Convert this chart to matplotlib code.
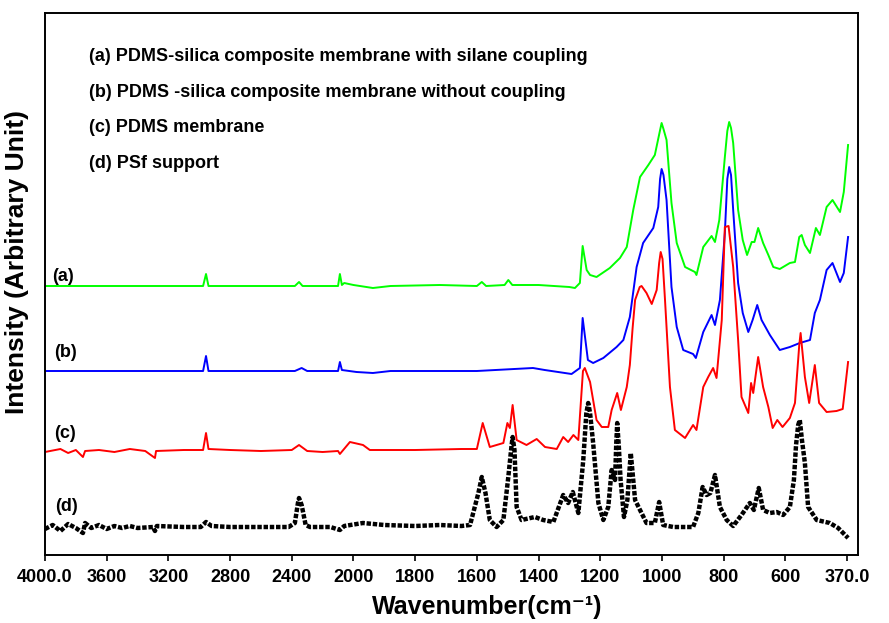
import numpy as np
import matplotlib
matplotlib.use("Agg")
import matplotlib.pyplot as plt

plt.rcParams["font.family"] = ["Liberation Sans", "DejaVu Sans"]
plt.rcParams["font.weight"] = "bold"

# ── Spectra (wavenumber cm-1, intensity a.u. offset) ─────────────────────────

wn_a = [4000, 3754, 3287, 2975, 2956, 2940, 2380, 2353, 2330, 2100, 2088, 2075,
        2060, 2000, 1937, 1880, 1720, 1600, 1584, 1570, 1510, 1498, 1485, 1400,
        1300, 1282, 1266, 1257, 1244, 1233, 1212, 1169, 1136, 1114, 1093, 1071,
        1044, 1023, 1008, 1001, 995, 985, 969, 952, 925, 893, 888, 866, 839,
        828, 814, 796, 788, 782, 776, 769, 753, 738, 724, 709, 700, 688, 672,
        655, 639, 618, 583, 564, 548, 539, 527, 508, 486, 471, 446, 424, 396,
        382, 366]
int_a = [2.69, 2.69, 2.69, 2.69, 2.81, 2.69, 2.69, 2.73, 2.69, 2.69, 2.81, 2.70,
         2.72, 2.70, 2.67, 2.69, 2.70, 2.69, 2.73, 2.69, 2.70, 2.75, 2.70, 2.70,
         2.68, 2.67, 2.72, 3.09, 2.85, 2.80, 2.78, 2.87, 2.97, 3.08, 3.45, 3.78,
         3.90, 4.00, 4.22, 4.32, 4.26, 4.15, 3.52, 3.12, 2.88, 2.83, 2.80, 3.08,
         3.19, 3.13, 3.35, 3.98, 4.24, 4.33, 4.27, 4.12, 3.45, 3.15, 3.00, 3.13,
         3.13, 3.27, 3.12, 3.00, 2.88, 2.86, 2.92, 2.93, 3.18, 3.20, 3.10, 3.02,
         3.27, 3.20, 3.48, 3.55, 3.43, 3.63, 4.10]

wn_b = [4000, 3754, 3287, 2975, 2956, 2940, 2380, 2336, 2300, 2100, 2088, 2075,
        1990, 1937, 1880, 1600, 1418, 1380, 1293, 1266, 1257, 1240, 1223, 1190,
        1147, 1125, 1104, 1082, 1061, 1028, 1012, 1006, 1001, 995, 985, 969,
        952, 931, 899, 890, 866, 839, 828, 812, 796, 788, 782, 776, 769, 753,
        738, 720, 706, 691, 677, 650, 618, 583, 546, 508, 490, 471, 446, 424,
        396, 382, 366]
int_b = [1.84, 1.84, 1.84, 1.84, 1.99, 1.84, 1.84, 1.87, 1.84, 1.84, 1.93, 1.85,
         1.83, 1.82, 1.84, 1.84, 1.87, 1.85, 1.81, 1.87, 2.37, 1.95, 1.92, 1.97,
         2.08, 2.15, 2.38, 2.88, 3.12, 3.27, 3.48, 3.76, 3.86, 3.80, 3.55, 2.68,
         2.28, 2.05, 2.01, 1.97, 2.23, 2.40, 2.30, 2.55, 3.22, 3.76, 3.88, 3.80,
         3.45, 2.72, 2.42, 2.23, 2.35, 2.50, 2.35, 2.20, 2.05, 2.08, 2.12, 2.15,
         2.42, 2.55, 2.85, 2.92, 2.73, 2.82, 3.18]

wn_c = [4000, 3900, 3850, 3800, 3754, 3740, 3650, 3550, 3450, 3350, 3287, 3280,
        3100, 2975, 2956, 2940, 2800, 2600, 2400, 2353, 2300, 2200, 2100, 2088,
        2023, 1969, 1947, 1800, 1650, 1600, 1581, 1558, 1514, 1501, 1493, 1484,
        1471, 1439, 1406, 1379, 1341, 1320, 1304, 1287, 1271, 1256, 1250, 1233,
        1212, 1195, 1174, 1163, 1145, 1133, 1114, 1104, 1095, 1087, 1072, 1066,
        1050, 1033, 1017, 1009, 1004, 998, 990, 974, 958, 925, 899, 888, 866,
        850, 834, 823, 806, 796, 784, 769, 753, 742, 720, 711, 704, 688, 672,
        655, 641, 626, 609, 583, 564, 548, 543, 527, 511, 490, 474, 446, 409,
        386, 366]
int_c = [1.03, 1.06, 1.02, 1.05, 0.98, 1.04, 1.05, 1.03, 1.06, 1.04, 0.97, 1.04,
         1.05, 1.05, 1.22, 1.06, 1.05, 1.04, 1.05, 1.10, 1.04, 1.03, 1.04, 1.01,
         1.13, 1.10, 1.05, 1.05, 1.06, 1.06, 1.32, 1.08, 1.12, 1.32, 1.27, 1.50,
         1.15, 1.10, 1.16, 1.08, 1.06, 1.18, 1.13, 1.20, 1.15, 1.84, 1.87, 1.73,
         1.35, 1.28, 1.28, 1.45, 1.62, 1.45, 1.68, 1.90, 2.27, 2.55, 2.68, 2.69,
         2.62, 2.51, 2.65, 2.92, 3.03, 2.96, 2.55, 1.68, 1.25, 1.17, 1.30, 1.25,
         1.68, 1.78, 1.87, 1.77, 2.35, 3.28, 3.29, 2.88, 2.15, 1.58, 1.42, 1.72,
         1.62, 1.98, 1.68, 1.48, 1.27, 1.35, 1.28, 1.37, 1.52, 2.10, 2.22, 1.78,
         1.52, 1.90, 1.52, 1.43, 1.44, 1.46, 1.93]

wn_d = [4000, 3950, 3900, 3850, 3800, 3754, 3740, 3700, 3650, 3600, 3550, 3500,
        3450, 3400, 3300, 3287, 3275, 3100, 2990, 2956, 2920, 2800, 2500, 2420,
        2380, 2360, 2353, 2336, 2310, 2282, 2150, 2088, 2060, 1969, 1900, 1800,
        1720, 1650, 1622, 1595, 1584, 1572, 1558, 1536, 1514, 1498, 1488, 1484,
        1478, 1471, 1455, 1412, 1385, 1352, 1320, 1304, 1289, 1271, 1255, 1245,
        1239, 1233, 1223, 1206, 1190, 1174, 1163, 1152, 1148, 1145, 1140, 1134,
        1123, 1112, 1101, 1087, 1071, 1050, 1023, 1009, 996, 963, 899, 882, 868,
        855, 843, 828, 812, 790, 769, 742, 715, 702, 686, 672, 650, 628, 607,
        583, 568, 560, 552, 546, 538, 527, 515, 483, 434, 403, 366]
int_d = [0.26, 0.30, 0.24, 0.31, 0.27, 0.22, 0.32, 0.27, 0.30, 0.26, 0.29, 0.27,
         0.29, 0.27, 0.28, 0.24, 0.29, 0.28, 0.28, 0.33, 0.29, 0.28, 0.28, 0.28,
         0.32, 0.52, 0.57, 0.50, 0.30, 0.28, 0.28, 0.25, 0.29, 0.32, 0.30, 0.29,
         0.30, 0.29, 0.30, 0.62, 0.78, 0.62, 0.35, 0.28, 0.35, 0.78, 1.08, 1.18,
         1.05, 0.48, 0.35, 0.38, 0.35, 0.33, 0.60, 0.52, 0.63, 0.42, 0.95, 1.42,
         1.52, 1.42, 1.12, 0.52, 0.35, 0.48, 0.85, 0.75, 1.12, 1.32, 1.10, 0.75,
         0.38, 0.55, 1.02, 0.55, 0.45, 0.32, 0.32, 0.53, 0.30, 0.28, 0.28, 0.42,
         0.68, 0.60, 0.62, 0.80, 0.48, 0.35, 0.29, 0.40, 0.52, 0.45, 0.67, 0.45,
         0.42, 0.43, 0.40, 0.48, 0.75, 1.10, 1.30, 1.35, 1.15, 0.92, 0.48, 0.35,
         0.32, 0.27, 0.17]

tick_wn = [4000, 3600, 3200, 2800, 2400, 2000, 1800, 1600, 1400, 1200, 1000,
           800, 600, 370]
tick_text = ["4000.0", "3600", "3200", "2800", "2400", "2000", "1800", "1600",
             "1400", "1200", "1000", "800", "600", "370.0"]

legend_lines = [
    "(a) PDMS-silica composite membrane with silane coupling",
    "(b) PDMS -silica composite membrane without coupling",
    "(c) PDMS membrane",
    "(d) PSf support",
]
curve_tags = ["(a)", "(b)", "(c)", "(d)"]

# ── Broken-scale wavenumber axis (400/div above 2000, 200/div below) ─────────
knots_wn = [0, 370, 600, 2000, 4000, 5000]
knots_u = [-370 / 230, 0, 1, 8, 13, 15.5]


def fwd(x):
    return np.interp(x, knots_wn, knots_u)


def inv(u):
    return np.interp(u, knots_u, knots_wn)


fig = plt.figure(figsize=(8.89, 6.23), dpi=100)
ax = fig.add_axes([45 / 889, 68 / 623, 813 / 889, 542 / 623])
ax.set_xscale("function", functions=(fwd, inv))

ax.plot(wn_a, int_a, color="#00ff00", lw=1.4)
ax.plot(wn_b, int_b, color="#0000ff", lw=1.4)
ax.plot(wn_c, int_c, color="#ff0000", lw=1.4)
ax.plot(wn_d, int_d, color="black", lw=3.2, ls=(0, (1, 0.4)))

ax.set_xlim(4000, 329)
ax.set_ylim(0, 5.42)
ax.set_xticks(tick_wn)
ax.set_xticklabels(tick_text, fontsize=13, fontweight="bold")
ax.xaxis.set_minor_locator(matplotlib.ticker.NullLocator())
ax.tick_params(axis="x", direction="out", length=4, width=1.2, pad=6)
ax.set_yticks([])
for s in ax.spines.values():
    s.set_linewidth(1.4)

for i, txt in enumerate(legend_lines):
    ax.text(0.054, 0.919 - i * 0.0655, txt, transform=ax.transAxes,
            fontsize=13, fontweight="bold", va="center", ha="left")

tag_y = [0.513, 0.373, 0.225, 0.089]
tag_x = [0.009, 0.011, 0.011, 0.013]
for t, x, y in zip(curve_tags, tag_x, tag_y):
    ax.text(x, y, t, transform=ax.transAxes, fontsize=13,
            fontweight="bold", va="center", ha="left")

fig.text(487 / 889, 1 - 607 / 623, "Wavenumber(cm\u207b\u00b9)",
         fontsize=18, fontweight="bold", ha="center", va="center")
fig.text(17 / 889, 1 - 262 / 623, "Intensity (Arbitrary Unit)", rotation=90,
         fontsize=19, fontweight="bold", ha="center", va="center")

fig.savefig("out.png", dpi=100)
